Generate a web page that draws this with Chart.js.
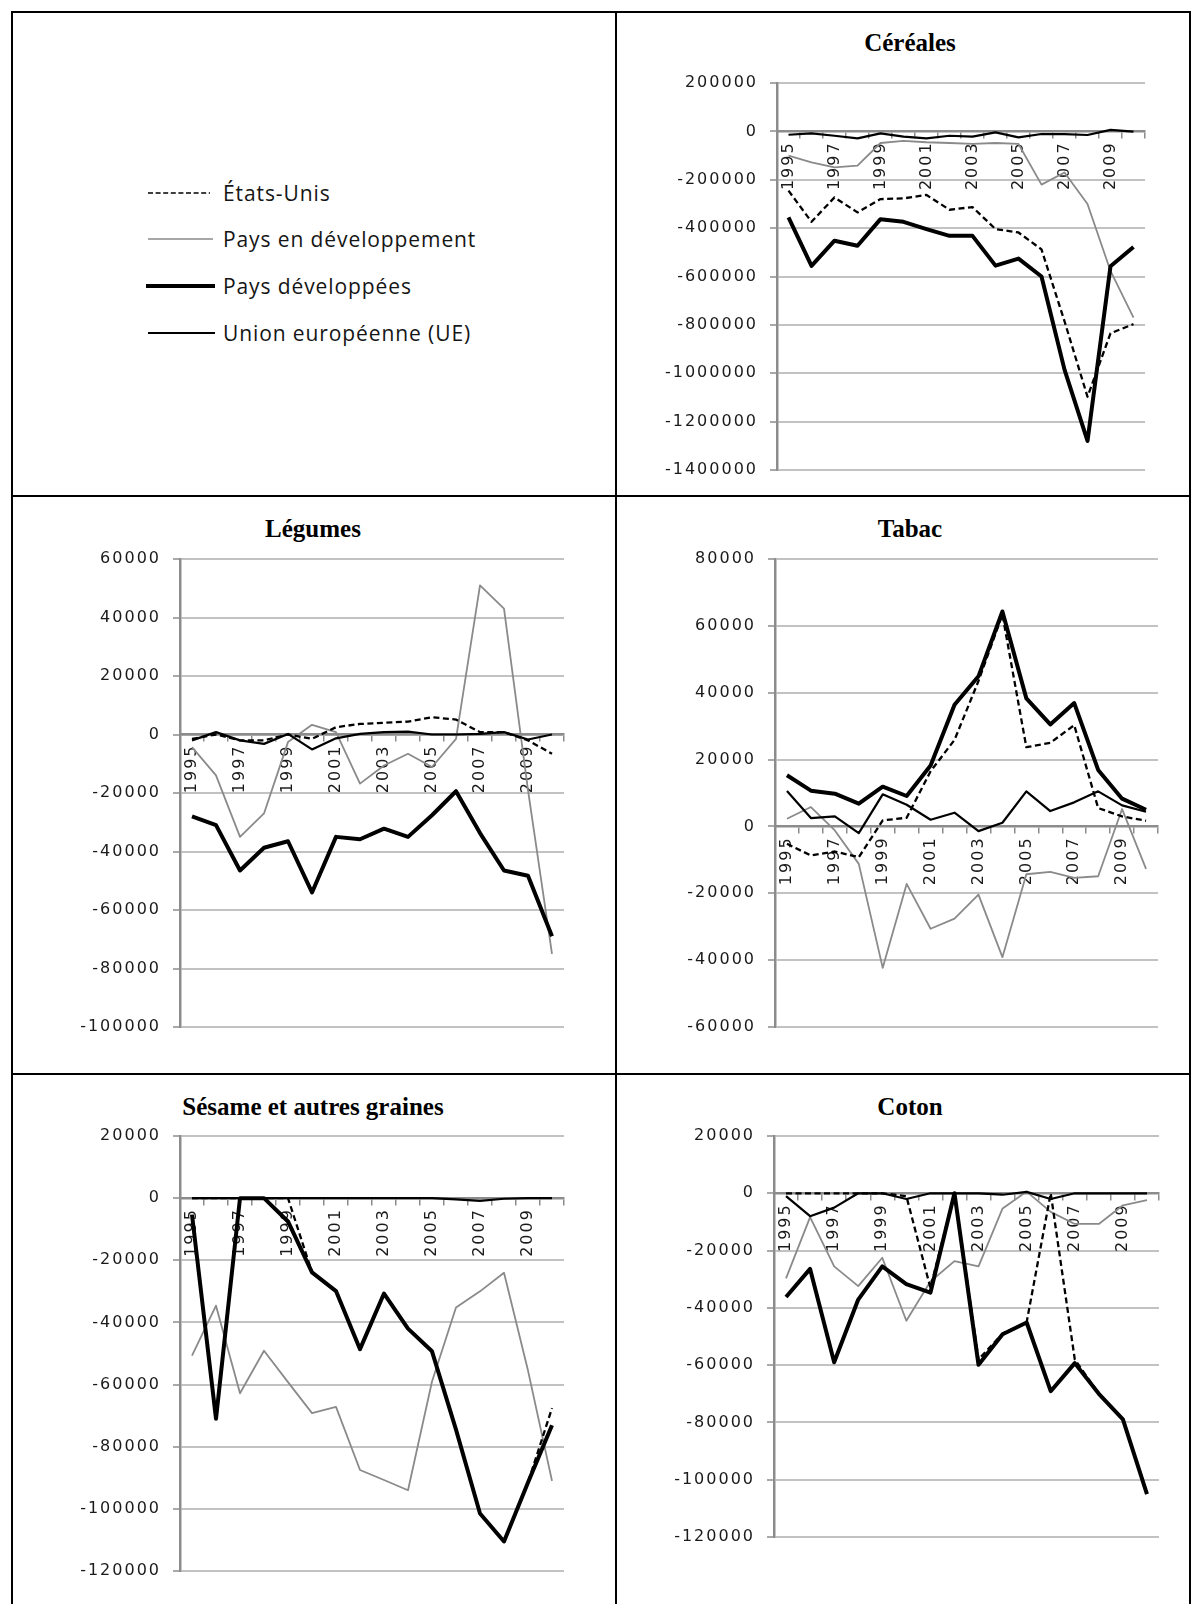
<!DOCTYPE html>
<html lang="fr">
<head>
<meta charset="UTF-8">
<title>Balances commerciales par produit</title>
<script src="https://cdn.jsdelivr.net/npm/chart.js"></script>
<style>
  body { margin: 0; background: #fff; }
  #page { position: relative; width: 1192px; height: 1604px; overflow: hidden; background: #fff; }
  .rule { position: absolute; background: #000; z-index: 5; }
  .title { position: absolute; width: 400px; text-align: center; line-height: 30px;
           font: bold 25px "Liberation Serif", "Times New Roman", serif; color: #000; }
  canvas { position: absolute; }
  .leg { position: absolute; left: 146px; height: 30px; display: flex; align-items: center;
         font: 21px "Open Sans", sans-serif; letter-spacing: 0.9px; color: #151515; }
  .leg svg { flex: none; }
</style>
</head>
<body>
<div id="page">
  <!-- table rules -->
  <div class="rule" style="left:11px;top:11px;width:2px;height:1593px"></div>
  <div class="rule" style="left:615px;top:11px;width:2px;height:1593px"></div>
  <div class="rule" style="left:1189px;top:11px;width:2px;height:1593px"></div>
  <div class="rule" style="left:11px;top:11px;width:1180px;height:2px"></div>
  <div class="rule" style="left:11px;top:495px;width:1180px;height:2px"></div>
  <div class="rule" style="left:11px;top:1073px;width:1180px;height:2px"></div>

  <!-- legend -->
  <div class="leg" style="top:178px"><svg width="77" height="30"><line x1="2" y1="15" x2="64" y2="15" stroke="#000" stroke-width="1.5" stroke-dasharray="5 2.6"/></svg><span>États-Unis</span></div>
  <div class="leg" style="top:224px"><svg width="77" height="30"><line x1="2" y1="15" x2="67" y2="15" stroke="#8a8a8a" stroke-width="1.5"/></svg><span>Pays en développement</span></div>
  <div class="leg" style="top:271px"><svg width="77" height="30"><line x1="0" y1="15" x2="69" y2="15" stroke="#000" stroke-width="4"/></svg><span>Pays développées</span></div>
  <div class="leg" style="top:318px"><svg width="77" height="30"><line x1="2" y1="15" x2="69" y2="15" stroke="#000" stroke-width="2"/></svg><span>Union européenne (UE)</span></div>

  <div class="title" style="left:710px;top:29px">Céréales</div>
  <div class="title" style="left:113px;top:515px">Légumes</div>
  <div class="title" style="left:710px;top:515px">Tabac</div>
  <div class="title" style="left:113px;top:1093px">Sésame et autres graines</div>
  <div class="title" style="left:710px;top:1093px">Coton</div>

  <canvas id="cereales"></canvas>
  <canvas id="legumes"></canvas>
  <canvas id="tabac"></canvas>
  <canvas id="sesame"></canvas>
  <canvas id="coton"></canvas>
</div>

<script>
// ---- data ----
const years = ['1995','1996','1997','1998','1999','2000','2001','2002','2003','2004','2005','2006','2007','2008','2009','2010'];

const cerealesUS  = [-245000,-374000,-273000,-335000,-280000,-277000,-263000,-324000,-313000,-404000,-418000,-488000,-785000,-1097000,-835000,-797000];
const cerealesPED = [-100000,-128000,-149000,-142000,-48000,-39000,-45000,-48000,-52000,-48000,-52000,-220000,-170000,-300000,-577000,-770000];
const cerealesPD  = [-356000,-556000,-452000,-473000,-363000,-374000,-404000,-432000,-432000,-555000,-526000,-600000,-985000,-1280000,-558000,-478000];
const cerealesUE  = [-14000,-8000,-18000,-29000,-8000,-22000,-29000,-18000,-22000,-4000,-25000,-11000,-11000,-15000,6000,-1000];

const legumesUS  = [-1500,0,-2000,-2000,0,-1500,2500,3600,4000,4400,5900,5100,800,800,-2000,-6600];
const legumesPED = [-4300,-14000,-35000,-27000,-2600,3300,800,-16800,-10600,-6600,-11100,-1500,51000,43000,-19000,-75000];
const legumesPD  = [-28000,-31000,-46500,-38700,-36500,-54000,-35000,-35800,-32200,-35000,-27600,-19400,-33700,-46500,-48300,-69000];
const legumesUE  = [-2000,800,-2000,-3200,200,-5100,-1300,200,800,1000,0,0,200,800,-1700,0];

const tabacUS  = [-5200,-8700,-7500,-9200,1800,2600,16500,25900,43500,63400,23700,25000,30300,5500,3000,1700];
const tabacPED = [2300,5800,-1200,-11200,-42300,-17200,-30600,-27600,-20400,-39100,-14300,-13600,-15400,-14900,5200,-12700];
const tabacPD  = [15300,10700,9800,6800,11900,9100,18200,36400,44900,64300,38300,30500,36900,16900,8300,5000];
const tabacUE  = [10600,2500,3000,-2000,9600,6500,2000,4100,-1400,1100,10500,4600,7200,10500,6300,4400];

const sesameUS  = [0,0,0,0,0,-23900,-29900,-48600,-30700,-42000,-49300,-74500,-101500,-110500,-91500,-67600];
const sesamePED = [-50700,-34600,-62800,-49100,-59200,-69200,-67200,-87500,-90700,-94000,-59000,-35200,-30000,-24000,-55500,-91000];
const sesamePD  = [-5300,-71000,0,0,-7500,-23900,-29900,-48600,-30700,-42000,-49300,-74500,-101500,-110500,-91500,-73100];
const sesameUE  = [0,0,0,0,0,0,0,0,0,0,0,-400,-900,-200,0,0];

const cotonUS  = [0,0,0,0,0,-1000,-33000,0,-58000,-49000,-45000,0,-58000,-70000,-78900,-105000];
const cotonPED = [-29700,-8300,-25500,-32400,-22500,-44500,-30800,-23700,-25500,-5300,600,-6500,-10700,-10700,-4200,-2400];
const cotonPD  = [-36200,-26400,-59000,-37100,-25500,-31700,-34700,0,-59900,-49200,-45100,-69100,-59300,-70000,-78900,-105000];
const cotonUE  = [-1000,-8000,-5000,0,0,-2000,0,0,0,-500,500,-2000,0,0,0,0];

// y axis ranges: [min, max, step]
const cerealesAxis = [-1400000, 200000, 200000];
const legumesAxis  = [-100000, 60000, 20000];
const tabacAxis    = [-60000, 80000, 20000];
const sesameAxis   = [-120000, 20000, 20000];
const cotonAxis    = [-120000, 20000, 20000];

// ---- chart setup ----
Chart.defaults.font.family = '"DejaVu Sans", Verdana, sans-serif';
Chart.defaults.font.size = 16;
Chart.defaults.color = '#1a1a1a';

const Y_AXIS_W = 140;   // room for the tick labels (they are clipped to the axis box)

// the tick labels in the scan are widely spaced
const tickSpacing = {
  id: 'tickSpacing',
  beforeUpdate(chart) { chart.ctx.letterSpacing = '2px'; },
  beforeDraw(chart) { chart.ctx.letterSpacing = '2px'; }
};

function seriesSet(us, ped, pd, ue) {
  const base = { pointRadius: 0, tension: 0, fill: false, borderCapStyle: 'butt', borderJoinStyle: 'round' };
  return [
    { ...base, label: 'Union européenne (UE)', data: ue, borderColor: '#000', borderWidth: 2.2, order: 1 },
    { ...base, label: 'Pays développées', data: pd, borderColor: '#000', borderWidth: 4, order: 2 },
    { ...base, label: 'États-Unis', data: us, borderColor: '#000', borderWidth: 2.3, borderDash: [6, 3.5], order: 3 },
    { ...base, label: 'Pays en développement', data: ped, borderColor: '#8a8a8a', borderWidth: 1.8, order: 4 }
  ];
}

// box = canvas [left, top, width, height]; area = plot [left, top, right, bottom] on the page
function makeChart(id, box, area, datasets, axis) {
  const cv = document.getElementById(id);
  cv.style.left = box[0] + 'px';
  cv.style.top = box[1] + 'px';
  cv.width = box[2];
  cv.height = box[3];
  return new Chart(cv, {
    type: 'line',
    data: { labels: years, datasets: datasets },
    options: {
      responsive: false,
      animation: false,
      layout: {
        padding: {
          left: area[0] - box[0] - Y_AXIS_W,
          top: area[1] - box[1],
          right: box[0] + box[2] - area[2],
          bottom: box[1] + box[3] - area[3]
        }
      },
      plugins: { legend: { display: false }, tooltip: { enabled: false } },
      scales: {
        x: {
          position: { y: 0 },
          offset: true,
          grid: { offset: true, drawOnChartArea: false, tickLength: 6, color: '#8c8c8c', lineWidth: 1.5 },
          border: { color: '#8c8c8c', width: 2.5 },
          ticks: {
            autoSkip: false, minRotation: 90, maxRotation: 90, padding: 4,
            callback: (v, i) => (i % 2 === 0 ? years[i] : '')
          }
        },
        y: {
          min: axis[0],
          max: axis[1],
          afterFit: s => { s.width = Y_AXIS_W; },
          grid: { color: '#c2c2c2', lineWidth: 2, tickLength: 7, tickColor: '#8c8c8c', tickWidth: 1.5 },
          border: { color: '#8c8c8c', width: 2.5 },
          ticks: { stepSize: axis[2], padding: 12, callback: v => String(v) }
        }
      }
    },
    plugins: [tickSpacing]
  });
}

makeChart('cereales', [619, 13, 570, 482], [777, 83, 1145, 470],
  seriesSet(cerealesUS, cerealesPED, cerealesPD, cerealesUE), cerealesAxis);
makeChart('legumes', [13, 498, 602, 575], [180, 559, 564, 1027],
  seriesSet(legumesUS, legumesPED, legumesPD, legumesUE), legumesAxis);
makeChart('tabac', [619, 498, 570, 575], [775, 559, 1158, 1027],
  seriesSet(tabacUS, tabacPED, tabacPD, tabacUE), tabacAxis);
makeChart('sesame', [13, 1076, 602, 528], [180, 1136, 564, 1571],
  seriesSet(sesameUS, sesamePED, sesamePD, sesameUE), sesameAxis);
makeChart('coton', [619, 1076, 570, 528], [774, 1136, 1159, 1537],
  seriesSet(cotonUS, cotonPED, cotonPD, cotonUE), cotonAxis);
</script>
</body>
</html>
